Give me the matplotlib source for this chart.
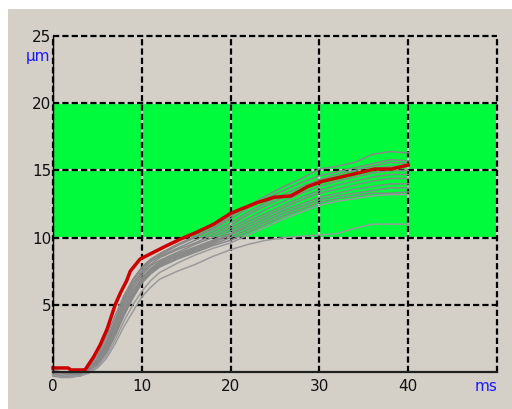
import matplotlib
matplotlib.use("Agg")
import matplotlib.pyplot as plt
from matplotlib.patches import Rectangle

# ---- data ----
T = [0, 1, 2, 3, 4, 5, 6, 7, 8, 9, 10, 11, 12, 14, 16, 18, 20, 22, 24, 26, 28, 30, 32, 34, 36, 38, 40]

gray_series = [
    [0.1, 0.0, -0.1, 0.0, 0.4, 1.2, 2.6, 4.2, 5.7, 6.9, 7.8, 8.4, 8.8, 9.5, 10.1, 10.7, 11.6, 12.4, 13.1, 13.8, 14.4, 15.1, 15.3, 15.6, 16.2, 16.4, 16.3],
    [-0.1, -0.2, -0.1, 0.1, 0.3, 1.0, 2.3, 3.9, 5.5, 6.8, 7.7, 8.3, 8.7, 9.4, 10.0, 10.6, 11.4, 12.2, 12.9, 13.5, 14.1, 14.6, 14.9, 15.2, 15.5, 15.8, 15.7],
    [0.0, -0.3, -0.3, 0.0, 0.3, 0.9, 2.1, 3.7, 5.3, 6.6, 7.5, 8.2, 8.6, 9.2, 9.8, 10.4, 11.1, 11.9, 12.6, 13.2, 13.8, 14.3, 14.7, 15.0, 15.3, 15.6, 15.5],
    [-0.2, -0.3, -0.2, -0.1, 0.2, 0.8, 2.0, 3.5, 5.1, 6.4, 7.4, 8.0, 8.5, 9.1, 9.6, 10.2, 10.9, 11.7, 12.4, 13.0, 13.6, 14.1, 14.4, 14.8, 15.1, 15.3, 15.3],
    [0.1, 0.0, -0.2, 0.0, 0.3, 0.8, 1.9, 3.4, 4.9, 6.2, 7.2, 7.9, 8.3, 8.9, 9.5, 10.0, 10.7, 11.4, 12.1, 12.7, 13.3, 13.8, 14.2, 14.5, 14.8, 15.0, 15.0],
    [-0.2, -0.4, -0.3, -0.1, 0.2, 0.7, 1.8, 3.2, 4.7, 6.0, 7.0, 7.7, 8.2, 8.8, 9.3, 9.8, 10.5, 11.2, 11.8, 12.4, 13.0, 13.5, 13.9, 14.2, 14.5, 14.7, 14.7],
    [0.0, -0.2, -0.3, -0.2, 0.1, 0.6, 1.6, 3.0, 4.5, 5.8, 6.9, 7.6, 8.1, 8.7, 9.2, 9.7, 10.3, 11.0, 11.6, 12.2, 12.8, 13.3, 13.6, 13.9, 14.2, 14.4, 14.4],
    [-0.3, -0.4, -0.4, -0.2, 0.1, 0.6, 1.5, 2.9, 4.4, 5.7, 6.8, 7.5, 8.0, 8.6, 9.1, 9.6, 10.2, 10.8, 11.4, 12.0, 12.5, 13.0, 13.3, 13.6, 13.8, 14.0, 14.0],
    [0.1, -0.1, -0.2, -0.1, 0.2, 0.6, 1.5, 2.8, 4.3, 5.6, 6.7, 7.4, 7.9, 8.5, 9.0, 9.5, 10.0, 10.6, 11.2, 11.8, 12.3, 12.8, 13.1, 13.3, 13.5, 13.7, 13.7],
    [-0.1, -0.3, -0.3, -0.2, 0.1, 0.5, 1.4, 2.7, 4.2, 5.5, 6.6, 7.3, 7.8, 8.4, 8.9, 9.4, 9.8, 10.4, 11.0, 11.6, 12.1, 12.6, 12.9, 13.1, 13.3, 13.3, 13.4],
    [0.0, -0.2, -0.3, -0.3, 0.0, 0.4, 1.2, 2.4, 3.8, 5.0, 6.0, 6.8, 7.4, 8.1, 8.7, 9.2, 9.6, 10.2, 10.8, 11.4, 11.9, 12.4, 12.7, 12.9, 13.1, 13.2, 13.2],
    [-0.2, -0.4, -0.4, -0.3, -0.1, 0.3, 1.0, 2.1, 3.4, 4.5, 5.6, 6.3, 6.9, 7.5, 8.0, 8.6, 9.1, 9.5, 9.8, 10.0, 10.1, 10.2, 10.3, 10.7, 11.0, 11.0, 11.0],
]

red_t = [0, 1.7, 2.0, 3.6, 4.6, 5.3, 6.1, 7.0, 7.6, 8.3, 8.7, 9.8, 11.3, 12.8, 14.4, 16.2, 18.1, 20.0, 21.1, 23.0, 24.9, 26.8, 28.7, 30.4, 32.4, 34.3, 36.2, 38.1, 40.0]
red_y = [0.3, 0.3, 0.15, 0.15, 1.15, 2.0, 3.2, 5.0, 5.9, 6.8, 7.5, 8.4, 8.9, 9.4, 9.9, 10.4, 11.0, 11.8, 12.1, 12.6, 13.0, 13.1, 13.8, 14.2, 14.5, 14.8, 15.1, 15.1, 15.4]

band = (10, 20)
x_ticks = [0, 10, 20, 30, 40]
y_ticks = [5, 10, 15, 20, 25]
x_grid = [0, 10, 20, 30, 40, 50]
y_grid = [5, 10, 15, 20, 25]
x_unit = "ms"
y_unit = "µm"

# ---- style ----
BG = "#d4d0c8"
GREEN = "#00fa3c"
W, H = 512, 409

fig = plt.figure(figsize=(W / 100, H / 100), dpi=100, facecolor="white")
fig.patches.append(Rectangle((8 / W, 0), 1 - 8 / W, (H - 9) / H,
                             transform=fig.transFigure, facecolor=BG,
                             edgecolor="none", zorder=-10))

ax = fig.add_axes([53 / W, (H - 372) / H, (497 - 53) / W, (372 - 36) / H])
ax.set_facecolor(BG)
ax.set_xlim(0, 50)
ax.set_ylim(0, 25)

ax.axhspan(band[0], band[1], facecolor=GREEN, edgecolor="none", zorder=0)

dash = (0, (2.8, 1.4))
for xg in x_grid:
    ax.axvline(xg, color=BG, lw=1.6, zorder=1, clip_on=False)
    ax.axvline(xg, color="black", lw=1.6, ls=dash, zorder=1.1, clip_on=False)
for yg in y_grid:
    ax.axhline(yg, color=BG, lw=1.6, zorder=1, clip_on=False)
    ax.axhline(yg, color="black", lw=1.6, ls=dash, zorder=1.1, clip_on=False)

for i, ys in enumerate(gray_series):
    col = "#9a9a9a" if i >= 10 else "#888888"
    ax.plot(T, ys, color=col, lw=1.1, zorder=2, clip_on=False)

ax.plot(red_t, red_y, color="#cc0000", lw=2.5, zorder=3, clip_on=False)

for s in ["top", "right"]:
    ax.spines[s].set_visible(False)
ax.spines["left"].set_color("black")
ax.spines["left"].set_linewidth(1.0)
ax.spines["left"].set_zorder(4)
ax.spines["bottom"].set_color("#202020")
ax.spines["bottom"].set_linewidth(1.6)
ax.spines["bottom"].set_zorder(4)

ax.set_xticks(x_ticks)
ax.set_yticks(y_ticks)
ax.tick_params(length=0, labelsize=11, colors="#111111")
ax.tick_params(axis="y", pad=1)
ax.tick_params(axis="x", pad=5)

ax.text(-0.3, 23.5, y_unit, color="#1a1aff", fontsize=11, ha="right", va="center")
ax.text(48.8, -1.1, x_unit, color="#1a1aff", fontsize=11, ha="center", va="center",
        clip_on=False)

fig.savefig("out.png", dpi=100, facecolor="white")
